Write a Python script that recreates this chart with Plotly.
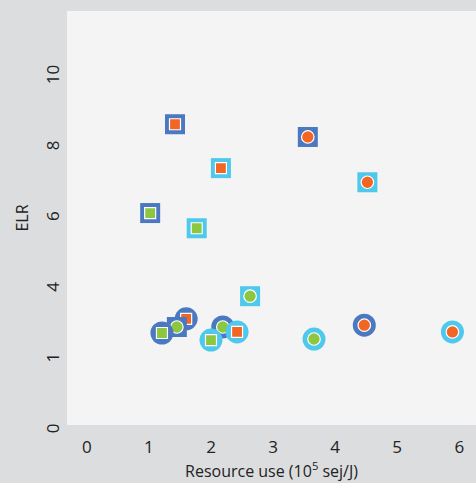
import plotly.graph_objects as go

# Data: each point has a frame (outer shape/colour) and a fill (inner shape/colour)
x_vals = [1.42, 2.16, 1.02, 1.77, 3.56, 4.52, 2.63, 1.60, 1.45, 1.21, 2.19, 2.00, 2.42, 3.66, 4.47, 5.89]
y_vals = [8.50, 7.26, 5.99, 5.56, 8.14, 6.86, 3.64, 3.00, 2.77, 2.60, 2.77, 2.40, 2.63, 2.43, 2.82, 2.63]
frame_shape = ["square", "square", "square", "square", "square", "square", "square",
               "circle", "square", "circle", "circle", "circle", "circle", "circle", "circle", "circle"]
frame_group = ["dark", "light", "dark", "light", "dark", "light", "light",
               "dark", "dark", "dark", "dark", "light", "light", "light", "dark", "light"]
fill_shape = ["square", "square", "square", "square", "circle", "circle", "circle",
              "square", "circle", "square", "circle", "square", "square", "circle", "circle", "circle"]
fill_group = ["orange", "orange", "green", "green", "orange", "orange", "green",
              "orange", "green", "green", "green", "green", "orange", "green", "orange", "orange"]

y_tickvals = [0, 2, 4, 6, 8, 10]
y_ticktext = ["0", "1", "4", "6", "8", "10"]
x_tickvals = [0, 1, 2, 3, 4, 5, 6]

frame_colors = {"dark": "#4a79c2", "light": "#4ec8ec"}
fill_colors = {"orange": "#f26522", "green": "#8dc63f"}
frame_sizes = {"square": 20, "circle": 23}
fill_sizes = {"square": 11, "circle": 12.5}

fig = go.Figure()
for i in range(len(x_vals)):
    fig.add_trace(go.Scatter(
        x=[x_vals[i]], y=[y_vals[i]], mode="markers", hoverinfo="skip",
        marker=dict(symbol=frame_shape[i], size=frame_sizes[frame_shape[i]],
                    color=frame_colors[frame_group[i]], line=dict(width=0)),
        showlegend=False))
    fig.add_trace(go.Scatter(
        x=[x_vals[i]], y=[y_vals[i]], mode="markers",
        marker=dict(symbol=fill_shape[i], size=fill_sizes[fill_shape[i]],
                    color=fill_colors[fill_group[i]], line=dict(width=1.2, color="white")),
        showlegend=False))

font_family = "Open Sans, Noto Sans, sans-serif"
fig.update_layout(
    width=476, height=483,
    margin=dict(l=67, r=0, t=11, b=58),
    paper_bgcolor="#dcdddf",
    plot_bgcolor="#f4f4f4",
    font=dict(family=font_family, color="#222222", size=16),
    xaxis=dict(range=[-0.32, 6.27], tickvals=x_tickvals, showgrid=False, zeroline=False,
               showline=False, ticks="", tickfont=dict(size=17), ticklabelstandoff=10,
               automargin=False,
               title=dict(text="Resource use (10<sup>5</sup> sej/J)", font=dict(size=16), standoff=2)),
    yaxis=dict(range=[0, 11.7], tickvals=y_tickvals, ticktext=y_ticktext, tickangle=-90,
               showgrid=False, zeroline=False, showline=False, ticks="",
               tickfont=dict(size=17), ticklabelstandoff=4, ticklabelshift=6,
               automargin=False,
               title=dict(text="ELR", font=dict(size=16), standoff=7)),
)

fig.write_html("out.html", config={"displayModeBar": False},
               post_script="document.body.style.margin='0';document.body.style.overflow='hidden';")
